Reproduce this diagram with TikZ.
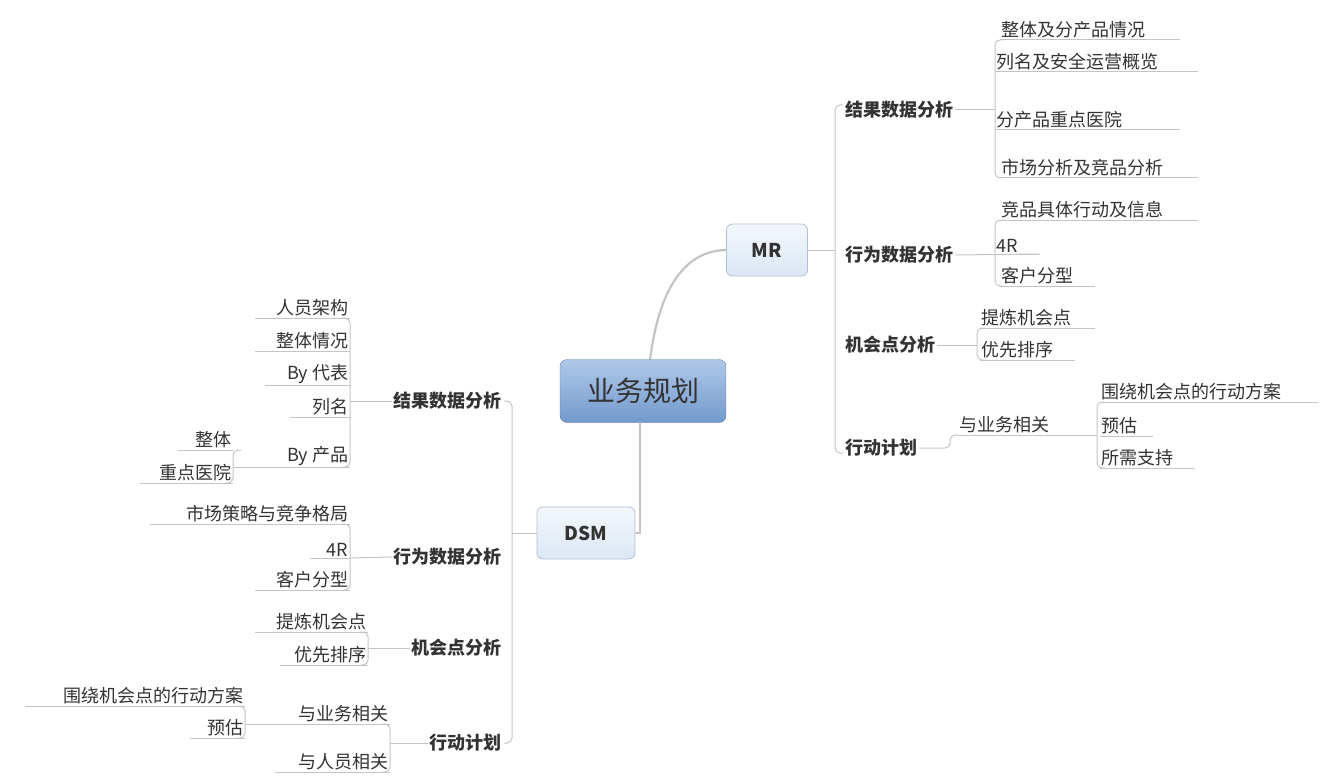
\documentclass[tikz,border=0pt]{standalone}
\usepackage{fontspec}
\setmainfont{Noto Sans CJK SC}
\definecolor{tx}{HTML}{333333}
\definecolor{ln}{HTML}{C4C4C4}
\definecolor{ctop}{HTML}{AFC8E8}
\definecolor{cbot}{HTML}{7399CC}
\definecolor{ttop}{HTML}{F3F7FC}
\definecolor{tbot}{HTML}{DCE7F4}
\definecolor{tbd}{HTML}{AFC0D6}
\tikzset{
 lf/.style={font=\fontsize{18}{20}\selectfont, text=tx, inner sep=1.5pt},
 mid/.style={font=\fontsize{18}{20}\selectfont\bfseries, text=tx, inner sep=2pt},
 ul/.style={draw=ln, line width=1pt},
 br/.style={draw=ln, line width=1pt, rounded corners=5pt},
 topic/.style={draw=tbd, rounded corners=6pt, line width=0.8pt, top color=ttop, bottom color=tbot, font=\fontsize{19}{21}\selectfont\bfseries, text=tx, minimum height=52pt},
}
\newcommand\rleaf[5]{\node[lf,anchor=south west] (#1) at (#2,#4) {#5}; \draw[ul] (#2,#4)--(#3,#4);}
\newcommand\lleaf[5]{\node[lf,anchor=south east] (#1) at (#3,#4) {#5}; \draw[ul] (#2,#4)--(#3,#4);}
\begin{document}
\begin{tikzpicture}[x=1pt,y=-1pt]
\useasboundingbox (0,0) rectangle (1330,778);
\draw[ln, line width=2.2pt] (650,360) .. controls (660,280) and (690,250) .. (727,250);
\draw[ln, line width=2.2pt] (640,423) -- (640,533) -- (635,533);
\node[draw=cbot!80!black, rounded corners=7pt, top color=ctop, bottom color=cbot, minimum width=166pt, minimum height=63pt, font=\fontsize{28}{30}\selectfont, text=tx] (c) at (643,391) {业务规划};
\node[topic, minimum width=81pt] (mr) at (767,250) {MR};
\node[topic, minimum width=98pt] (dsm) at (586,533) {DSM};

% ===== MR side =====
\draw[br] (mr.east) -- (835,250);
\draw[br] (843,105) -- (835,105) -- (835,453) -- (843,453);
\node[mid,anchor=west] (m1) at (843,110) {结果数据分析};
\node[mid,anchor=west] (m2) at (843,255) {行为数据分析};
\node[mid,anchor=west] (m3) at (843,345) {机会点分析};
\node[mid,anchor=west] (m4) at (843,448) {行动计划};
\draw[br] (m1.east) -- (995,110);
\draw[br] (1003,40) -- (995,40) -- (995,178) -- (1003,178);
\rleaf{a1}{1000}{1180}{40}{整体及分产品情况}
\rleaf{a2}{995}{1198}{72}{列名及安全运营概览}
\rleaf{a3}{995}{1180}{130}{分产品重点医院}
\rleaf{a4}{1000}{1198}{178}{市场分析及竞品分析}
\draw[br] (m2.east) -- (1040,254);
\draw[br] (1003,220) -- (995,220) -- (995,286) -- (1003,286);
\rleaf{b1}{1000}{1198}{220}{竞品具体行动及信息}
\rleaf{b2}{995}{1038}{254}{4R}
\rleaf{b3}{1000}{1095}{286}{客户分型}
\draw[br] (m3.east) -- (977,345);
\draw[br] (985,328) -- (977,328) -- (977,360) -- (985,360);
\rleaf{c1}{980}{1095}{328}{提炼机会点}
\rleaf{c2}{980}{1075}{360}{优先排序}
\draw[br] (m4.east) -- (950,448) -- (950,435) -- (958,435);
\rleaf{d1}{958}{1097}{435}{与业务相关}
\draw[br] (1105,402) -- (1097,402) -- (1097,468) -- (1105,468);
\rleaf{e1}{1100}{1318}{402}{围绕机会点的行动方案}
\rleaf{e2}{1100}{1153}{436}{预估}
\rleaf{e3}{1100}{1195}{468}{所需支持}

% ===== DSM side =====
\draw[br] (dsm.west) -- (512,533);
\draw[br] (504,401) -- (512,401) -- (512,743) -- (504,743);
\node[mid,anchor=east] (n1) at (504,401) {结果数据分析};
\node[mid,anchor=east] (n2) at (504,557) {行为数据分析};
\node[mid,anchor=east] (n3) at (504,648) {机会点分析};
\node[mid,anchor=east] (n4) at (504,743) {行动计划};
\draw[br] (n1.west) -- (350,401);
\draw[br] (342,318) -- (350,318) -- (350,467) -- (342,467);
\lleaf{f1}{255}{350}{318}{人员架构}
\lleaf{f2}{255}{350}{351}{整体情况}
\lleaf{f3}{265}{350}{385}{By 代表}
\lleaf{f4}{290}{350}{417}{列名}
\lleaf{f5}{255}{350}{467}{By 产品}
\draw[br] (241,450) -- (233,450) -- (233,483) -- (225,483);
\draw[br] (233,467) -- (255,467);
\lleaf{g1}{178}{233}{450}{整体}
\lleaf{g2}{140}{233}{483}{重点医院}
\draw[br] (n2.west) -- (350,558);
\draw[br] (342,524) -- (350,524) -- (350,590) -- (342,590);
\lleaf{h1}{150}{350}{524}{市场策略与竞争格局}
\lleaf{h2}{310}{350}{558}{4R}
\lleaf{h3}{255}{350}{590}{客户分型}
\draw[br] (n3.west) -- (368,648);
\draw[br] (360,632) -- (368,632) -- (368,665) -- (360,665);
\lleaf{i1}{255}{368}{632}{提炼机会点}
\lleaf{i2}{280}{368}{665}{优先排序}
\draw[br] (n4.west) -- (390,743);
\draw[br] (382,724) -- (390,724) -- (390,772) -- (382,772);
\lleaf{j1}{275}{390}{724}{与业务相关}
\lleaf{j2}{275}{390}{772}{与人员相关}
\draw[br] (237,706) -- (245,706) -- (245,738) -- (237,738);
\draw[br] (245,724) -- (275,724);
\lleaf{k1}{25}{245}{706}{围绕机会点的行动方案}
\lleaf{k2}{190}{245}{738}{预估}
\end{tikzpicture}
\end{document}
